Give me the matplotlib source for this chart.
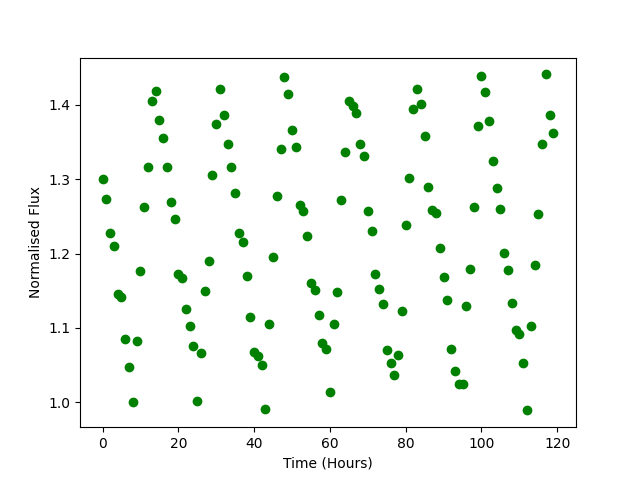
import numpy as np
import matplotlib
matplotlib.use("Agg")
import matplotlib.pyplot as plt

# hourly flux readings, hour 0 to 119
time_hours = np.arange(120)
flux = [
    1.300, 1.274, 1.228, 1.210, 1.146, 1.141, 1.085, 1.048, 1.000, 1.083,
    1.176, 1.262, 1.316, 1.405, 1.419, 1.379, 1.355, 1.316, 1.270, 1.246,
    1.172, 1.167, 1.125, 1.102, 1.075, 1.001, 1.066, 1.149, 1.190, 1.306,
    1.374, 1.422, 1.386, 1.348, 1.316, 1.282, 1.228, 1.215, 1.170, 1.114,
    1.068, 1.062, 1.050, 0.991, 1.105, 1.195, 1.277, 1.341, 1.438, 1.415,
    1.366, 1.344, 1.265, 1.257, 1.224, 1.161, 1.151, 1.117, 1.079, 1.071,
    1.014, 1.105, 1.148, 1.272, 1.337, 1.405, 1.399, 1.389, 1.347, 1.331,
    1.257, 1.230, 1.172, 1.152, 1.132, 1.070, 1.053, 1.037, 1.064, 1.123,
    1.238, 1.302, 1.395, 1.422, 1.401, 1.358, 1.290, 1.258, 1.254, 1.207,
    1.168, 1.138, 1.072, 1.042, 1.025, 1.025, 1.129, 1.179, 1.262, 1.372,
    1.439, 1.417, 1.378, 1.324, 1.288, 1.260, 1.201, 1.178, 1.134, 1.097,
    1.092, 1.053, 0.989, 1.102, 1.184, 1.253, 1.348, 1.441, 1.387, 1.362,
]

plt.figure(figsize=(6.4, 4.8), dpi=100)
plt.plot(time_hours, flux, 'go')
plt.xlabel('Time (Hours)')
plt.ylabel('Normalised Flux')
plt.savefig('out.png')
